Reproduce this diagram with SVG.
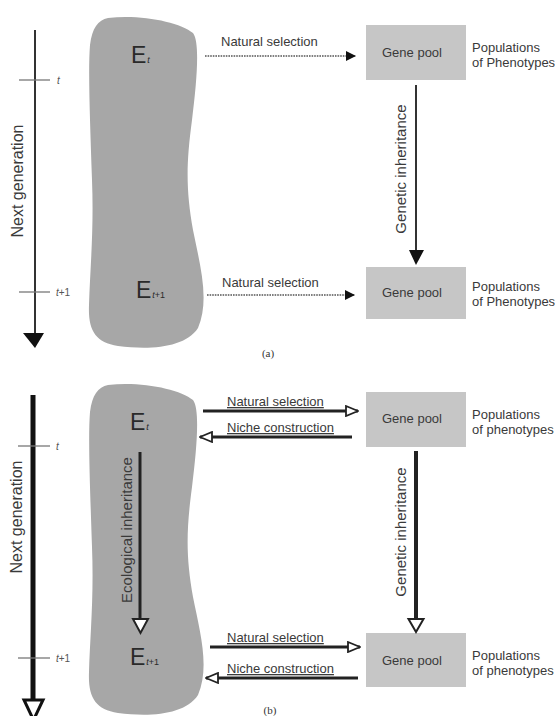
<svg xmlns="http://www.w3.org/2000/svg" width="555" height="716" viewBox="0 0 555 716">
<defs>
<style>
.t{font-family:"Liberation Sans",Arial,sans-serif;fill:#3a3a3a}
.lbl{font-size:13px}
.vert{font-size:15px;text-anchor:middle}
.big{font-size:23px;fill:#2a2a2a}
.sub{font-size:9px;font-style:italic}
.tick{stroke:#777;stroke-width:1.3}
.tl{font-family:"Liberation Sans",Arial,sans-serif;font-size:10px;font-style:italic;fill:#555}
.blob{fill:#a7a7a7}
.box{fill:#c6c6c6}
.ul{text-decoration:underline}
</style>
<marker id="fa" viewBox="0 0 10 10" refX="10" refY="5" markerWidth="10" markerHeight="10" markerUnits="userSpaceOnUse" orient="auto"><path d="M0,0 L10,5 L0,10 Z" fill="#111"/></marker>
<marker id="oa" viewBox="0 0 14 12" refX="13" refY="6" markerWidth="14" markerHeight="12" markerUnits="userSpaceOnUse" orient="auto"><path d="M1,1 L13,6 L1,11 Z" fill="#fff" stroke="#222" stroke-width="1.8"/></marker>
<path id="blobshape" d="M108,18 C140,14 180,22 193,33 C200,42 197,80 192,120 C186,165 186,190 193,230 C200,265 210,300 198,328 C185,348 150,350 118,346 C95,342 88,330 89,305 C90,270 94,230 92,180 C90,120 88,70 90,45 C92,28 98,20 108,18 Z"/>
</defs>
<rect width="555" height="716" fill="#fff"/>

<!-- Panel (a) -->
<g id="axis-a">
<line x1="35" y1="30" x2="35" y2="334" stroke="#333" stroke-width="2"/>
<path d="M23,333 L44,333 L35,348 Z" fill="#111"/>
<line class="tick" x1="19" y1="80" x2="50" y2="80"/>
<text class="tl" x="57" y="84">t</text>
<line class="tick" x1="19" y1="292" x2="50" y2="292"/>
<text class="tl" x="56" y="296">t<tspan font-style="normal">+1</tspan></text>
<text class="t vert" transform="translate(23,181) rotate(-90)" style="font-size:16px">Next generation</text>
</g>

<g id="env-a">
<use href="#blobshape" class="blob"/>
<text class="t big" x="131" y="63">E<tspan class="sub" dx="1">t</tspan></text>
<text class="t big" x="136" y="298">E<tspan class="sub" dx="1">t<tspan font-style="normal">+1</tspan></tspan></text>
</g>

<g id="genepool-a1">
<rect class="box" x="366" y="25" width="100" height="55"/>
<text class="t lbl" x="412" y="57" text-anchor="middle">Gene pool</text>
<text class="t lbl" x="472" y="52">Populations</text>
<text class="t lbl" x="472" y="67">of Phenotypes</text>
</g>
<g id="genepool-a2">
<rect class="box" x="366" y="267" width="100" height="52"/>
<text class="t lbl" x="412" y="297" text-anchor="middle">Gene pool</text>
<text class="t lbl" x="472" y="291">Populations</text>
<text class="t lbl" x="472" y="306">of Phenotypes</text>
</g>

<g id="connectors-a">
<line x1="205" y1="56" x2="356" y2="56" stroke="#555" stroke-width="1.4" stroke-dasharray="1.6,1" marker-end="url(#fa)"/>
<text class="t lbl" x="221" y="46">Natural selection</text>
<line x1="207" y1="295" x2="355" y2="295" stroke="#555" stroke-width="1.4" stroke-dasharray="1.6,1" marker-end="url(#fa)"/>
<text class="t lbl" x="222" y="287">Natural selection</text>
<line x1="416" y1="85" x2="416" y2="251" stroke="#333" stroke-width="2"/>
<path d="M409,250 L424,250 L416,265 Z" fill="#111"/>
<text class="t vert" transform="translate(406,169) rotate(-90)">Genetic inheritance</text>
</g>
<text x="268" y="357" font-family="Liberation Serif,serif" font-size="11" fill="#333" text-anchor="middle">(a)</text>

<!-- Panel (b) -->
<g id="axis-b">
<line x1="33" y1="395" x2="33" y2="700" stroke="#111" stroke-width="5"/>
<path d="M24,700 L43,700 L33.5,720 Z" fill="#fff" stroke="#111" stroke-width="3"/>
<line class="tick" x1="18" y1="446" x2="50" y2="446"/>
<text class="tl" x="56" y="450">t</text>
<line class="tick" x1="18" y1="658" x2="50" y2="658"/>
<text class="tl" x="56" y="662">t<tspan font-style="normal">+1</tspan></text>
<text class="t vert" transform="translate(22,517) rotate(-90)" style="font-size:16px">Next generation</text>
</g>

<g id="env-b">
<use href="#blobshape" class="blob" transform="translate(0,367)"/>
<text class="t big" x="130" y="430">E<tspan class="sub" dx="1">t</tspan></text>
<text class="t big" x="130" y="665">E<tspan class="sub" dx="1">t<tspan font-style="normal">+1</tspan></tspan></text>
</g>

<g id="genepool-b1">
<rect class="box" x="366" y="392" width="100" height="55"/>
<text class="t lbl" x="412" y="423" text-anchor="middle">Gene pool</text>
<text class="t lbl" x="472" y="419">Populations</text>
<text class="t lbl" x="472" y="434">of phenotypes</text>
</g>
<g id="genepool-b2">
<rect class="box" x="366" y="633" width="100" height="54"/>
<text class="t lbl" x="412" y="665" text-anchor="middle">Gene pool</text>
<text class="t lbl" x="472" y="660">Populations</text>
<text class="t lbl" x="472" y="675">of phenotypes</text>
</g>

<g id="connectors-b">
<line x1="203" y1="411" x2="358" y2="411" stroke="#222" stroke-width="3" marker-end="url(#oa)"/>
<text class="t lbl ul" x="227" y="406">Natural selection</text>
<line x1="352" y1="437" x2="200" y2="437" stroke="#222" stroke-width="3" marker-end="url(#oa)"/>
<text class="t lbl ul" x="227" y="432">Niche construction</text>
<line x1="210" y1="647" x2="360" y2="647" stroke="#222" stroke-width="3" marker-end="url(#oa)"/>
<text class="t lbl ul" x="227" y="642">Natural selection</text>
<line x1="358" y1="678" x2="206" y2="678" stroke="#222" stroke-width="3" marker-end="url(#oa)"/>
<text class="t lbl ul" x="227" y="673">Niche construction</text>
<line x1="416" y1="451" x2="416" y2="619" stroke="#222" stroke-width="4"/>
<path d="M408.5,619 L423.5,619 L416,632 Z" fill="#fff" stroke="#222" stroke-width="2"/>
<text class="t vert" transform="translate(406,532) rotate(-90)">Genetic inheritance</text>
<line x1="140" y1="452" x2="140" y2="619" stroke="#222" stroke-width="3"/>
<path d="M133,619 L148,619 L140.5,633 Z" fill="#fff" stroke="#222" stroke-width="2"/>
<text class="t vert" transform="translate(132,530) rotate(-90)">Ecological inheritance</text>
</g>
<text x="270" y="714" font-family="Liberation Serif,serif" font-size="11" fill="#333" text-anchor="middle">(b)</text>
</svg>
